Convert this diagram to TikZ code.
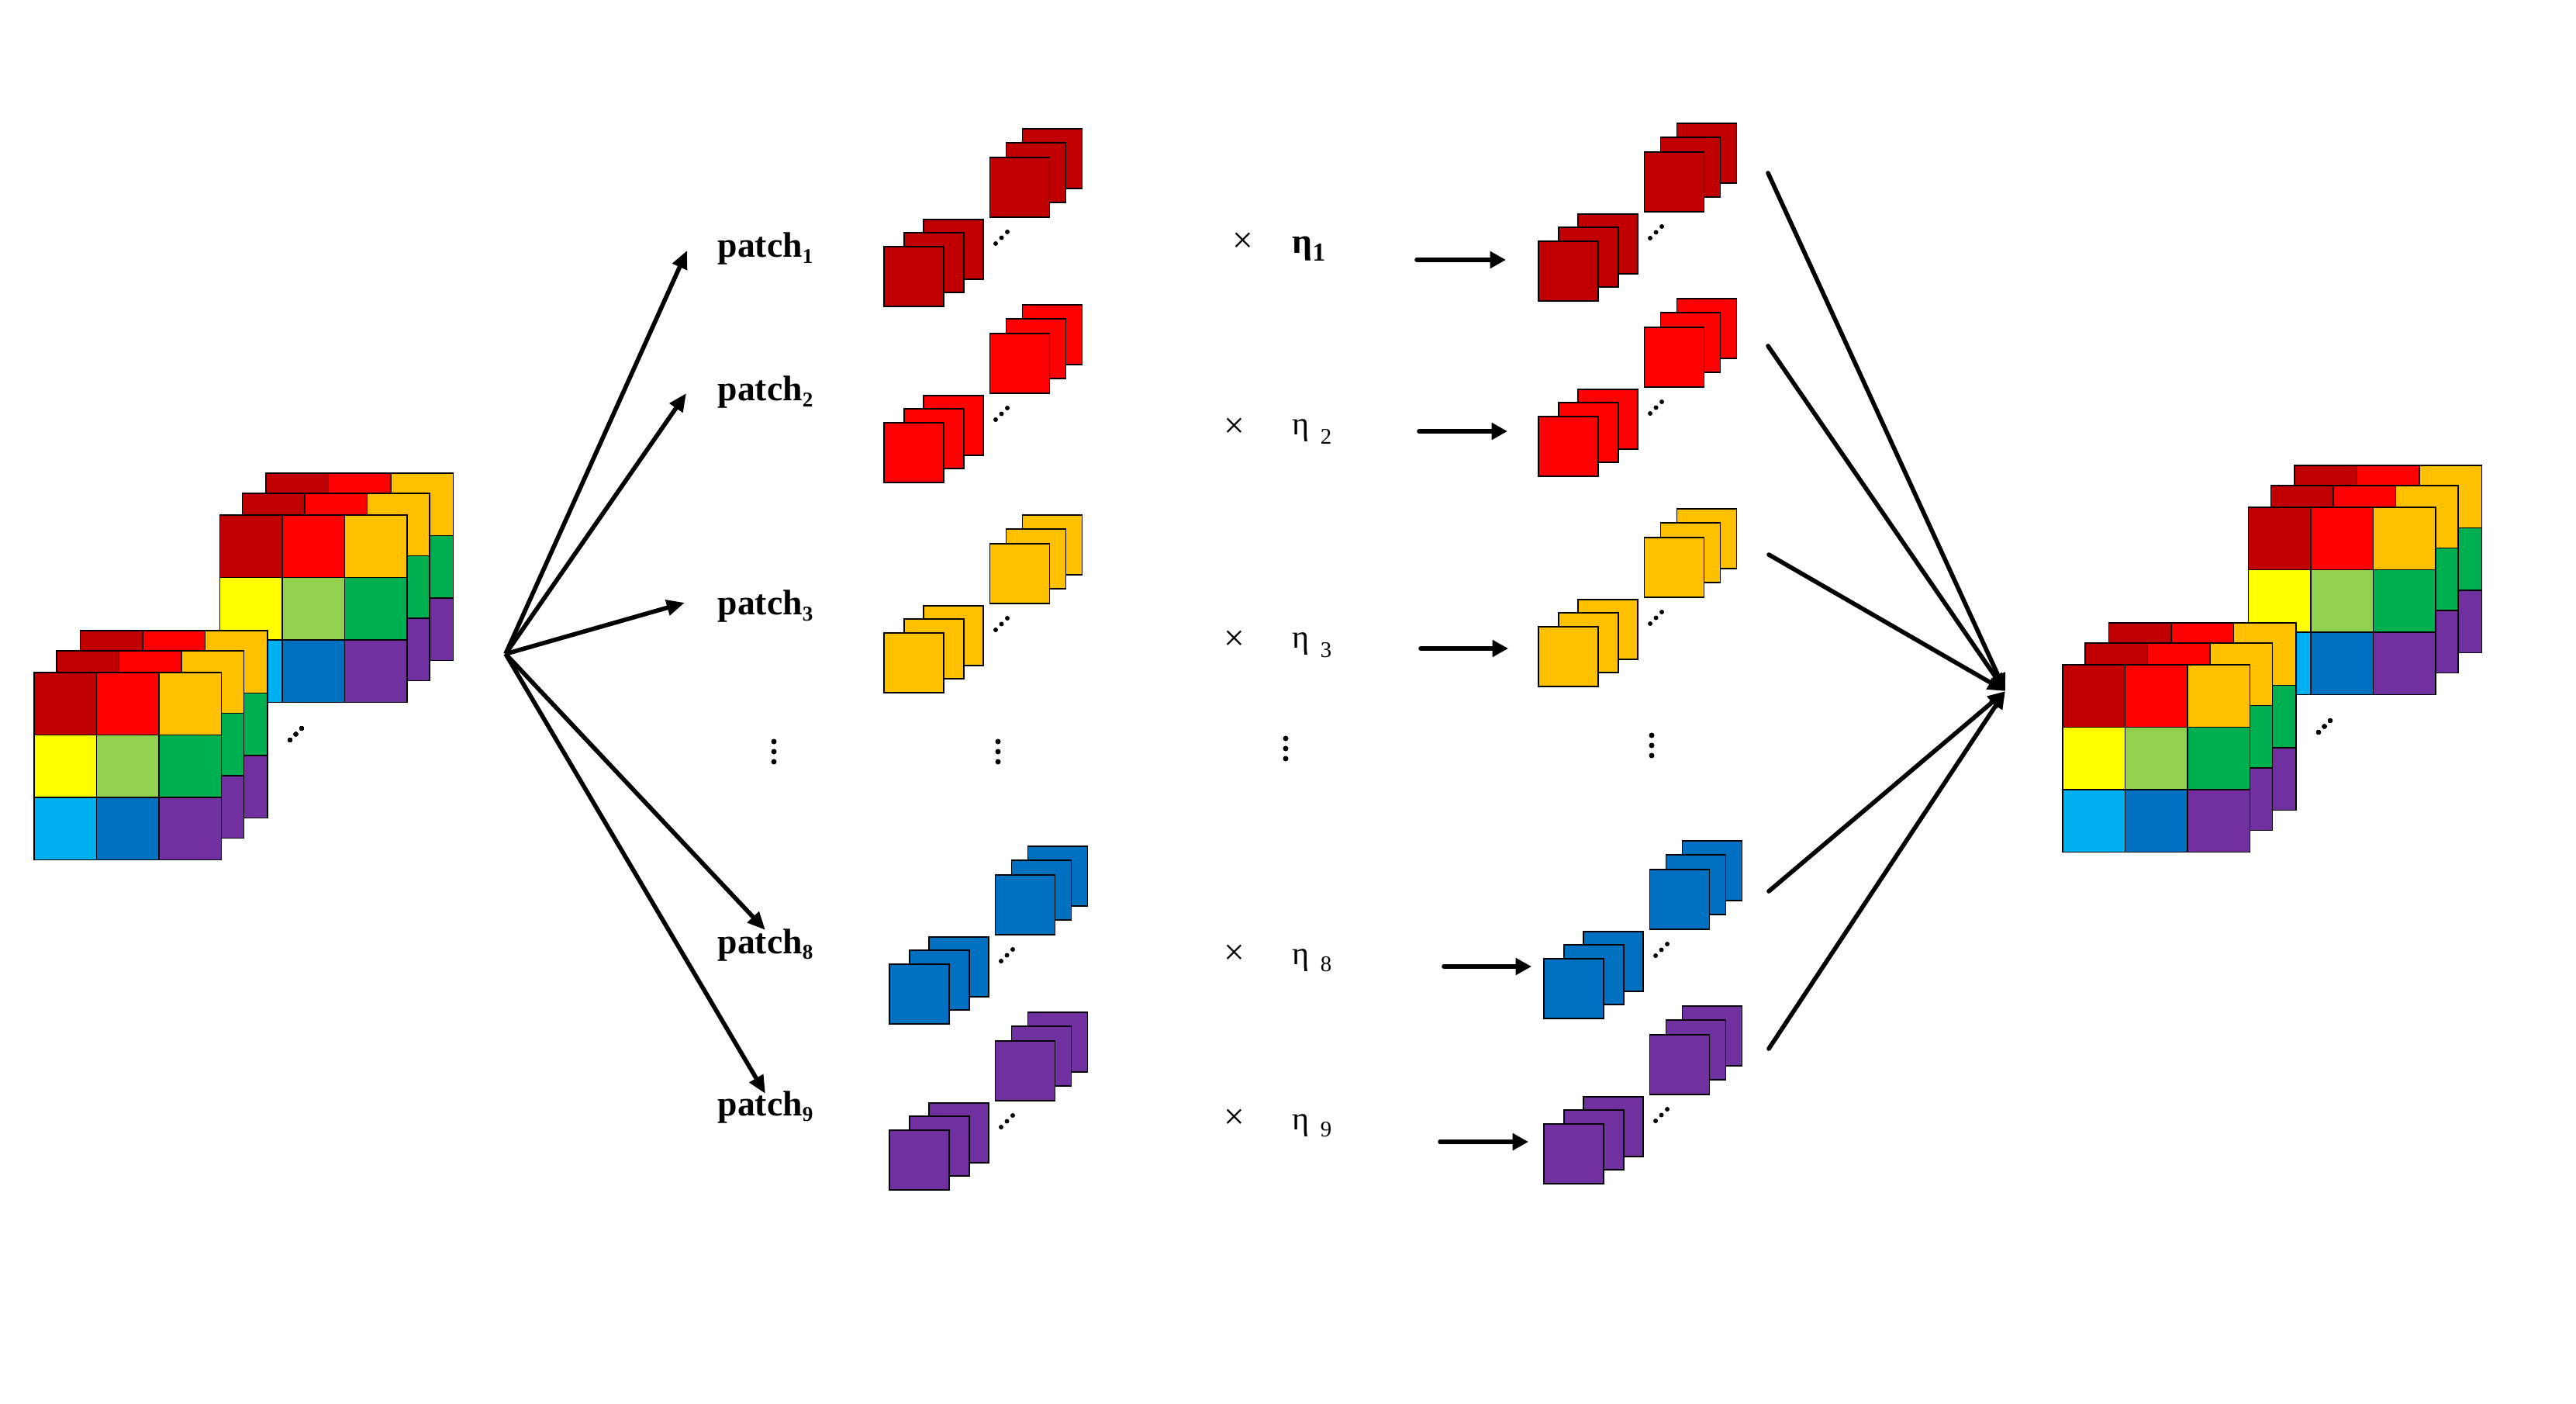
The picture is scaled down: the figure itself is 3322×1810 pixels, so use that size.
\documentclass[tikz,border=0pt]{standalone}
\usepackage{fontspec}
\setmainfont{Liberation Serif}
\usetikzlibrary{arrows.meta}

\definecolor{pdred}{HTML}{C00000}
\definecolor{pred}{HTML}{FF0000}
\definecolor{porange}{HTML}{FFC000}
\definecolor{pyellow}{HTML}{FFFF00}
\definecolor{plgreen}{HTML}{92D050}
\definecolor{pgreen}{HTML}{00B050}
\definecolor{plblue}{HTML}{00B0F0}
\definecolor{pblue}{HTML}{0070C0}
\definecolor{ppurple}{HTML}{7030A0}

% lowered index after a label
\newcommand{\subnum}[3]{\raisebox{-#1}{\fontsize{#2}{#2}\selectfont #3}}

% one 3x3 layer of the feature cube
\newcommand{\cubelayer}[2]{%
  \foreach \cc/\rr/\clr in {0/0/pdred,1/0/pred,2/0/porange,0/1/pyellow,1/1/plgreen,2/1/pgreen,0/2/plblue,1/2/pblue,2/2/ppurple}
    \draw[cell,fill=\clr] (#1+80.5*\cc,#2+80.5*\rr) rectangle ++(80.5,80.5);
}
\newcommand{\cubestack}[2]{%
  \foreach \dx/\dy in {59.5/-54,29/-28,0/0}
    \cubelayer{#1+\dx}{#2+\dy}
}
\newcommand{\rgbcube}[2]{%
  \cubestack{#1+239.5}{#2-203}
  \cubestack{#1}{#2}
  \foreach \dx/\dy in {330/87,337.5/79.5,345/72}
    \fill (#1+\dx,#2+\dy) circle (0.85pt);
}
% two small stacks of one patch
\newcommand{\patchpair}[3]{%
  \foreach \dx/\dy in {51/-35,26/-18,0/0}
    \draw[sq,fill=#3] (#1+\dx,#2+\dy) rectangle ++(77,77);
  \foreach \dx/\dy in {178.5/-152,157.5/-134,136.5/-115}
    \draw[sq,fill=#3] (#1+\dx,#2+\dy) rectangle ++(77,77);
  \foreach \dx/\dy in {144/-4,151.5/-11.5,159/-19}
    \fill (#1+\dx,#2+\dy) circle (0.85pt);
}
\newcommand{\vdotsat}[2]{%
  \foreach \dy in {-13,0,13}
    \fill (#1,#2+\dy) circle (1pt);
}

\begin{document}
\begin{tikzpicture}[x=0.01cm,y=-0.01cm,
    sq/.style={draw=black,line width=0.45pt},
    cell/.style={draw=black,line width=0.5pt},
    lbl/.style={font=\fontsize{13}{15}\selectfont\bfseries,inner sep=0pt,anchor=base west},
    eta/.style={font=\fontsize{12}{14}\selectfont,inner sep=0pt,anchor=base west},
    times/.style={font=\fontsize{13.5}{15}\selectfont,inner sep=0pt},
    fanarrow/.style={line width=1.6pt,-{Triangle[length=6.6pt,width=5.6pt]}},
    midarrow/.style={line width=1.6pt,line cap=round,-{Triangle[length=5.8pt,width=6pt]}},
    mergearrow/.style={line width=1.6pt,line cap=round,-{Triangle[length=6.4pt,width=5.4pt]}}]

    \useasboundingbox (0,0) rectangle (3322,1810);

    % input and output cubes
    \rgbcube{44}{867}
    \rgbcube{2660}{857}

    % fan out
    \coordinate (fan) at (652,843);
    \coordinate (t1) at (886,323);
    \coordinate (t2) at (885,507);
    \coordinate (t3) at (883,777);
    \coordinate (t8) at (987,1199);
    \coordinate (t9) at (987,1410);
    \foreach \i in {1,2,3,8,9}
        \draw[fanarrow] (fan) -- (t\i);

    \node[lbl] (lbl1) at (925,332) {patch\subnum{2pt}{7.7}{1}};
    \node[lbl] (lbl2) at (925,517) {patch\subnum{2pt}{7.7}{2}};
    \node[lbl] (lbl3) at (925,793) {patch\subnum{2pt}{7.7}{3}};
    \node[lbl] (lbl8) at (925,1229) {patch\subnum{2pt}{7.7}{8}};
    \node[lbl] (lbl9) at (925,1438) {patch\subnum{2pt}{7.7}{9}};
    \vdotsat{998}{969}

    % patches before weighting
    \patchpair{1140}{318}{pdred}
    \patchpair{1140}{545}{pred}
    \patchpair{1140}{816}{porange}
    \patchpair{1147}{1243}{pblue}
    \patchpair{1147}{1457}{ppurple}
    \vdotsat{1287}{969}

    % weights
    \node[times] (x1) at (1603,313) {×};
    \node[times] (x2) at (1592,552) {×};
    \node[times] (x3) at (1592,826) {×};
    \node[times] (x8) at (1592,1231) {×};
    \node[times] (x9) at (1592,1443) {×};
    \node[eta,font=\fontsize{13}{15}\selectfont\bfseries] (eta1) at (1666,327) {η\subnum{2.6pt}{9.5}{1}};
    \node[eta] (eta2) at (1666,561) {η\hspace{4pt}\subnum{3.2pt}{8.2}{2}};
    \node[eta] (eta3) at (1666,835) {η\hspace{4pt}\subnum{3.5pt}{8.2}{3}};
    \node[eta] (eta8) at (1666,1243) {η\hspace{4pt}\subnum{2.8pt}{8.2}{8}};
    \node[eta] (eta9) at (1666,1456) {η\hspace{4pt}\subnum{2.8pt}{8.2}{9}};
    \vdotsat{1658}{965}

    \coordinate (a1s) at (1827,335);  \coordinate (a1e) at (1942,335);
    \coordinate (a2s) at (1830,556);  \coordinate (a2e) at (1944,556);
    \coordinate (a3s) at (1832,836);  \coordinate (a3e) at (1945,836);
    \coordinate (a8s) at (1862,1246); \coordinate (a8e) at (1975,1246);
    \coordinate (a9s) at (1857,1472); \coordinate (a9e) at (1971,1472);
    \foreach \i in {1,2,3,8,9}
        \draw[midarrow] (a\i s) -- (a\i e);

    % weighted patches
    \patchpair{1984}{311}{pdred}
    \patchpair{1984}{537}{pred}
    \patchpair{1984}{808}{porange}
    \patchpair{1991}{1236}{pblue}
    \patchpair{1991}{1449}{ppurple}
    \vdotsat{2130}{961}

    % merge
    \coordinate (merge) at (2586,891);
    \coordinate (c1) at (2280,223);
    \coordinate (c2) at (2280,446);
    \coordinate (c3) at (2281,715);
    \coordinate (c8) at (2281,1149);
    \coordinate (c9) at (2281,1352);
    \foreach \i in {1,2,3,8,9}
        \draw[mergearrow] (c\i) -- (merge);
\end{tikzpicture}
\end{document}
